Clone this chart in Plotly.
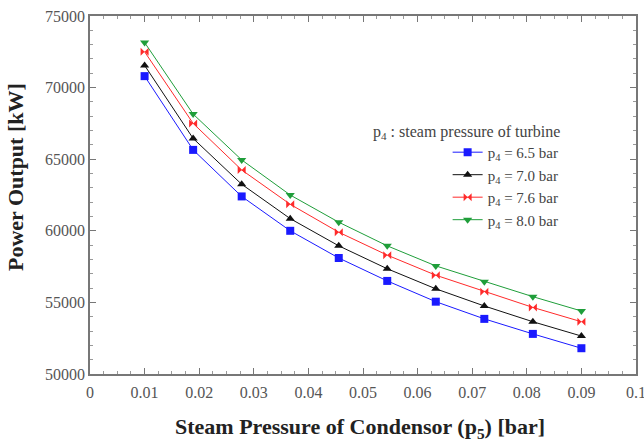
import plotly.graph_objects as go

x_p5 = [0.01, 0.01889, 0.02778, 0.03667, 0.04556, 0.05444, 0.06333, 0.07222, 0.08111, 0.09]
p65 = [70800, 65650, 62400, 60000, 58100, 56500, 55050, 53850, 52800, 51800]
p70 = [71550, 66450, 63250, 60850, 58950, 57350, 55950, 54750, 53650, 52650]
p76 = [72500, 67500, 64250, 61850, 59900, 58300, 56900, 55750, 54650, 53650]
p80 = [73150, 68150, 64950, 62500, 60600, 58950, 57550, 56450, 55400, 54400]

names = ["p<sub>4</sub> = 6.5 bar", "p<sub>4</sub> = 7.0 bar", "p<sub>4</sub> = 7.6 bar", "p<sub>4</sub> = 8.0 bar"]
colors = ["#1a1aff", "#111111", "#ff2a2a", "#1f9e3a"]
symbols = ["square", "triangle-up", "bowtie", "triangle-down"]

fig = go.Figure()
for ys, nm, c, s in zip([p65, p70, p76, p80], names, colors, symbols):
    fig.add_trace(go.Scatter(
        x=x_p5, y=ys, name=nm, mode="lines+markers",
        line=dict(color=c, width=1),
        marker=dict(color=c, symbol=s, size=8),
    ))

serif = "Liberation Serif, Times New Roman, serif"
L, R, T, B = 90, 8, 16, 69
PH = 443 - T - B
PW = 644 - L - R

fig.update_layout(
    width=644, height=443,
    margin=dict(l=L, r=R, t=T, b=B),
    paper_bgcolor="white", plot_bgcolor="white",
    font=dict(family=serif, size=14, color="#333"),
    showlegend=True,
    legend=dict(x=0.655, y=0.665, xanchor="left", yanchor="top",
                bgcolor="rgba(0,0,0,0)", font=dict(family=serif, size=15, color="#444"),
                tracegroupgap=0, itemwidth=30),
    annotations=[
        dict(text="p<sub>4</sub> : steam pressure of turbine", xref="paper", yref="paper",
             x=(371 - L) / PW, y=(374 - 132) / PH, xanchor="left", yanchor="middle", showarrow=False,
             font=dict(family=serif, size=16, color="#444")),
        dict(text="<b>Steam Pressure of Condensor (p<sub>5</sub>) [bar]</b>", xref="paper", yref="paper",
             x=(360 - L) / PW, y=-(428 - 374) / PH, xanchor="center", yanchor="middle", showarrow=False,
             font=dict(family=serif, size=22, color="#222")),
        dict(text="<b>Power Output [kW]</b>", xref="paper", yref="paper", textangle=-90,
             x=-(L - 15) / PW, y=(374 - 177) / PH, xanchor="center", yanchor="middle", showarrow=False,
             font=dict(family=serif, size=22, color="#222")),
        dict(text="0.1", xref="x", yref="paper", x=0.1, y=-(392 - 374) / PH,
             xanchor="center", yanchor="middle", showarrow=False,
             font=dict(family=serif, size=16, color="#555")),
    ],
)
fig.update_xaxes(
    range=[0, 0.1], tickvals=[0, 0.01, 0.02, 0.03, 0.04, 0.05, 0.06, 0.07, 0.08, 0.09, 0.1],
    tickformat="~g", automargin=False,
    showline=True, linecolor="#777", linewidth=1.5, mirror="ticks",
    ticks="inside", ticklen=6, tickcolor="#777", ticklabelstandoff=3,
    minor=dict(dtick=0.0025, ticks="inside", ticklen=3, tickcolor="#999"),
    showgrid=False, zeroline=False,
    tickfont=dict(family=serif, size=16, color="#555"),
)
fig.update_yaxes(
    range=[50000, 75000], dtick=5000, tickformat="d", automargin=False,
    showline=True, linecolor="#777", linewidth=1.5, mirror="ticks",
    ticks="inside", ticklen=6, tickcolor="#777",
    minor=dict(dtick=1000, ticks="inside", ticklen=3, tickcolor="#999"),
    showgrid=False, zeroline=False,
    tickfont=dict(family=serif, size=16, color="#555"),
)
fig.write_html("out.html", config={"displayModeBar": False},
               post_script="document.body.style.margin='0';document.body.style.overflow='hidden';")
